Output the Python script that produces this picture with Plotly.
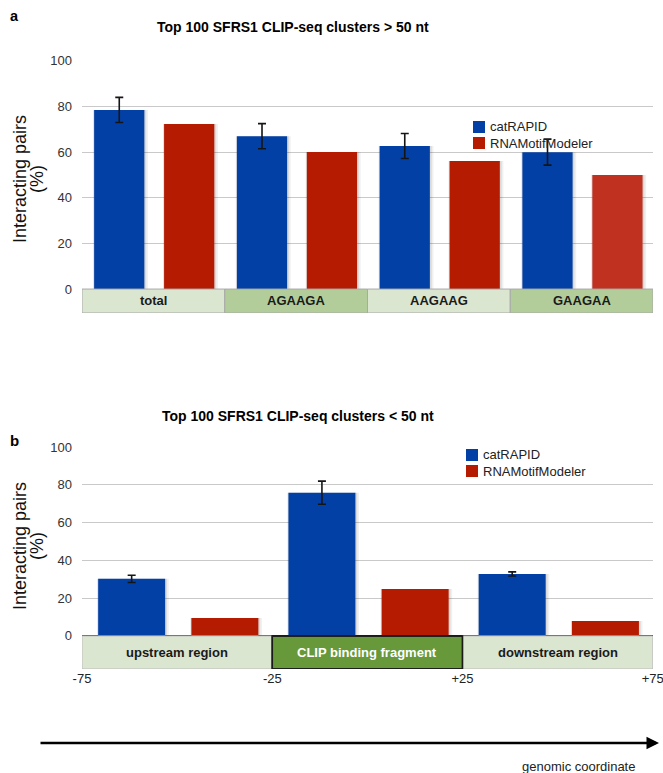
import plotly.graph_objects as go

# ---- data -------------------------------------------------------------
series_names = ["catRAPID", "RNAMotifModeler"]

# panel a: clusters longer than 50 nt, grouped by motif
motifs = ["total", "AGAAGA", "AAGAAG", "GAAGAA"]
catrapid_a = [78.5, 67.0, 62.7, 60.0]
catrapid_a_err = [5.5, 5.5, 5.5, 5.7]
rnamotif_a = [72.3, 60.1, 56.1, 50.0]

# panel b: clusters shorter than 50 nt, by genomic region
regions = ["upstream region", "CLIP binding fragment", "downstream region"]
region_centers = [-50, 0, 50]
region_edges = [-75, -25, 25, 75]
edge_labels = ["-75", "-25", "+25", "+75"]
catrapid_b = [30.2, 75.8, 32.8]
catrapid_b_err = [1.9, 6.1, 1.1]
rnamotif_b = [9.5, 24.9, 7.9]

y_ticks = [0, 20, 40, 60, 80, 100]

# ---- styling ----------------------------------------------------------
FONT = "Liberation Sans, Arial, sans-serif"
BLUE = "#0340A6"
RED = "#B51B00"
RED_LIGHT = "#C0311F"
BAND_LIGHT = "#DAE6D0"
BAND_DARK = "#B2CD9A"
BAND_CLIP = "#67983A"
GRID = "#C9C9C9"

W, H = 663, 773


def px_x(p):
    return p / W


def px_y(p):
    return 1 - p / H


fig = go.Figure()

# relative bar geometry inside one category slot (fraction of slot width)
BAR_W = 0.352
OFF_BLUE = -0.415
OFF_RED = 0.075

# pixel width of one category slot per panel
px_slot = {"x": 571 / 4, "x2": 571 / 3}


def add_panel(x, blue, blue_err, red, red_colors, slot, xaxis, yaxis, px_per_unit):
    # soft drop shadow under each bar
    for vals, off in ((blue, OFF_BLUE), (red, OFF_RED)):
        for grow, alpha in ((3.0, 0.06), (1.5, 0.09)):
            fig.add_trace(go.Bar(
                x=x, y=[v + grow / px_per_unit for v in vals],
                base=[-grow / px_per_unit] * len(vals),
                width=[slot * BAR_W + grow * slot / px_slot[xaxis] * 1.6] * len(vals),
                offset=[slot * off - grow * 0.4 * slot / px_slot[xaxis]] * len(vals),
                marker=dict(color=f"rgba(0,0,0,{alpha})", line=dict(width=0)),
                xaxis=xaxis, yaxis=yaxis, showlegend=False, hoverinfo="skip",
            ))
    fig.add_trace(go.Bar(
        x=x, y=blue, name=series_names[0],
        width=[slot * BAR_W] * len(x), offset=[slot * OFF_BLUE] * len(x),
        marker=dict(color=BLUE, line=dict(width=0)),
        error_y=dict(type="data", array=blue_err, color="#151515",
                     thickness=1.6, width=4),
        xaxis=xaxis, yaxis=yaxis, showlegend=False,
    ))
    fig.add_trace(go.Bar(
        x=x, y=red, name=series_names[1],
        width=[slot * BAR_W] * len(x), offset=[slot * OFF_RED] * len(x),
        marker=dict(color=red_colors, line=dict(width=0)),
        xaxis=xaxis, yaxis=yaxis, showlegend=False,
    ))


add_panel(list(range(len(motifs))), catrapid_a, catrapid_a_err, rnamotif_a,
          [RED, RED, RED, RED_LIGHT], 1.0, "x", "y", 2.28)
add_panel(region_centers, catrapid_b, catrapid_b_err, rnamotif_b,
          [RED] * 3, 50.0, "x2", "y2", 1.89)

# ---- category bands under the bars -------------------------------------
shapes = []
annotations = []
for i, m in enumerate(motifs):
    shapes.append(dict(type="rect", xref="x", yref="y",
                       x0=i - 0.5, x1=i + 0.5, y0=-10.5, y1=0,
                       fillcolor=BAND_LIGHT if i % 2 == 0 else BAND_DARK,
                       line=dict(color="#A9A9A9", width=1), layer="above"))
    annotations.append(dict(xref="x", yref="y", x=i, y=-5.2, text=f"<b>{m}</b>",
                            showarrow=False, font=dict(family=FONT, size=13, color="#1a1a1a")))

for i, r in enumerate(regions):
    clip = i == 1
    shapes.append(dict(type="rect", xref="x2", yref="y2",
                       x0=region_edges[i], x1=region_edges[i + 1], y0=-17.5, y1=0,
                       fillcolor=BAND_CLIP if clip else BAND_LIGHT,
                       line=dict(color="#1a1a1a" if clip else "#BDBDBD",
                                 width=1.5 if clip else 1),
                       layer="above"))
    annotations.append(dict(xref="x2", yref="y2", x=region_centers[i], y=-8.6,
                            text=f"<b>{r}</b>", showarrow=False,
                            font=dict(family=FONT, size=13,
                                      color="white" if clip else "#1a1a1a")))
# redraw the outline of the middle box on top of its neighbours
shapes.append(dict(type="rect", xref="x2", yref="y2", x0=region_edges[1], x1=region_edges[2],
                   y0=-17.5, y1=0, fillcolor="rgba(0,0,0,0)",
                   line=dict(color="#1a1a1a", width=1.5), layer="above"))

# ---- legends (square swatch + label) ---------------------------------
def legend(x_px, y_px):
    for k, (name, col) in enumerate(zip(series_names, [BLUE, RED])):
        yc = y_px + 16 * k
        shapes.append(dict(type="rect", xref="paper", yref="paper",
                           x0=px_x(x_px), x1=px_x(x_px + 12),
                           y0=px_y(yc + 6), y1=px_y(yc - 6),
                           fillcolor=col, line=dict(width=0)))
        annotations.append(dict(xref="paper", yref="paper", x=px_x(x_px + 15), y=px_y(yc),
                                xanchor="left", yanchor="middle", text=name, showarrow=False,
                                font=dict(family=FONT, size=13, color="#222")))


legend(473, 127)
legend(466, 455)

# ---- titles, panel letters, axis titles -------------------------------
for txt, x, y, size, anchor in [
    ("<b>Top 100 SFRS1 CLIP-seq clusters > 50 nt</b>", 293, 27, 14, "center"),
    ("<b>Top 100 SFRS1 CLIP-seq clusters < 50 nt</b>", 298, 416, 14, "center"),
    ("<b>a</b>", 8, 16, 14.5, "left"),
    ("<b>b</b>", 8, 440, 15, "left"),
]:
    annotations.append(dict(xref="paper", yref="paper", x=px_x(x), y=px_y(y), text=txt,
                            xanchor=anchor, yanchor="middle", showarrow=False,
                            font=dict(family=FONT, size=size, color="black")))

for yc in (179, 546):
    annotations.append(dict(xref="paper", yref="paper", x=px_x(20), y=px_y(yc),
                            text="Interacting pairs", textangle=-90, showarrow=False,
                            xanchor="center", yanchor="middle",
                            font=dict(family=FONT, size=18, color="#111")))
    annotations.append(dict(xref="paper", yref="paper", x=px_x(37), y=px_y(yc),
                            text="(%)", textangle=-90, showarrow=False,
                            xanchor="center", yanchor="middle",
                            font=dict(family=FONT, size=18, color="#111")))

# genomic coordinate arrow
annotations.append(dict(xref="paper", yref="paper", x=px_x(659), y=px_y(743),
                        ax=-620, ay=0, text="", showarrow=True, arrowhead=2,
                        arrowsize=1, arrowwidth=2.5, arrowcolor="black"))
annotations.append(dict(xref="paper", yref="paper", x=px_x(578), y=px_y(766),
                        text="genomic coordinate", showarrow=False,
                        xanchor="center", yanchor="middle",
                        font=dict(family=FONT, size=13, color="#222")))

# ---- axes ---------------------------------------------------------------
yaxis_common = dict(tickvals=y_ticks, showgrid=True, gridcolor=GRID, gridwidth=1,
                    zeroline=True, zerolinewidth=1.2, ticks="", ticklabelstandoff=9,
                    tickfont=dict(family=FONT, size=13, color="#333"),
                    showline=False, fixedrange=True, automargin=False)

fig.update_layout(
    width=W, height=H,
    margin=dict(l=0, r=0, t=0, b=0, pad=0, autoexpand=False),
    paper_bgcolor="white", plot_bgcolor="white",
    barmode="overlay",
    showlegend=False,
    xaxis=dict(domain=[px_x(82), px_x(653)], range=[-0.5, 3.5], type="linear",
               showticklabels=False, showgrid=False, zeroline=False, ticks="",
               anchor="y", automargin=False),
    yaxis=dict(domain=[px_y(313), px_y(60)], range=[-10.5, 100.4], anchor="x",
               zerolinecolor="#555", **yaxis_common),
    xaxis2=dict(domain=[px_x(82), px_x(653)], range=[-75, 75.05], tickvals=region_edges,
                ticktext=edge_labels, showgrid=False, zeroline=False, ticks="",
                tickfont=dict(family=FONT, size=13, color="#222"), anchor="y2",
                ticklabeloverflow="allow", automargin=False),
    yaxis2=dict(domain=[px_y(669), px_y(446.2)], range=[-17.5, 100.4], anchor="x2",
                zerolinecolor="#1a1a1a", **yaxis_common),
    shapes=shapes,
    annotations=annotations,
    font=dict(family=FONT),
)

fig.write_html("out.html")
